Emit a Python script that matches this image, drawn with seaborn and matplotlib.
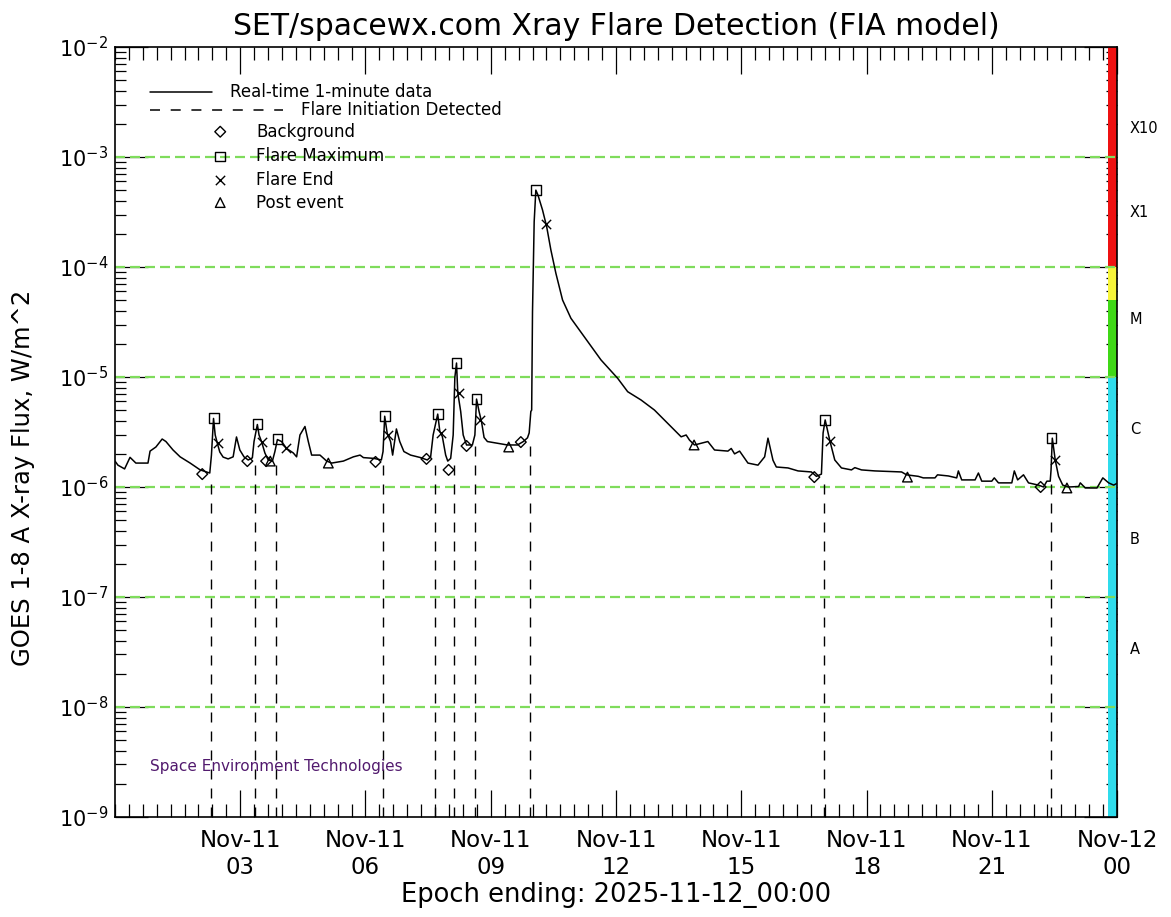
import matplotlib
matplotlib.use("Agg")
import matplotlib.pyplot as plt
import matplotlib.transforms as mtransforms
from matplotlib.patches import Rectangle
from matplotlib.ticker import MultipleLocator, FixedLocator, NullFormatter
import seaborn as sns
import pandas as pd

# ---------------- data (hours since 2025-11-11 00:00, flux W/m^2) ----------------
curve_hours = [0.00, 0.07, 0.23, 0.36, 0.50, 0.79, 0.84, 0.98, 1.13, 1.22, 1.39, 1.56, 1.80, 2.04,
               2.27, 2.31, 2.36, 2.40, 2.45, 2.51, 2.59, 2.71, 2.83, 2.91, 2.99, 3.09, 3.19, 3.29,
               3.33, 3.41, 3.45, 3.51, 3.59, 3.67, 3.77, 3.83, 3.89, 3.99, 4.11, 4.27, 4.35, 4.43,
               4.55, 4.63, 4.71, 4.91, 5.07, 5.19, 5.47, 5.71, 5.87, 5.95, 6.20, 6.38, 6.42, 6.46,
               6.52, 6.60, 6.65, 6.74, 6.82, 6.92, 7.08, 7.32, 7.48, 7.56, 7.62, 7.73, 7.78, 7.84,
               7.92, 7.97, 8.04, 8.10, 8.14, 8.18, 8.21, 8.28, 8.34, 8.42, 8.56, 8.62, 8.66, 8.72,
               8.78, 8.84, 8.92, 9.16, 9.40, 9.64, 9.78, 9.88, 9.92, 9.96, 9.98, 10.00, 10.04, 10.08,
               10.13, 10.24, 10.34, 10.44, 10.56, 10.72, 10.92, 11.24, 11.64, 12.04, 12.28, 12.60,
               12.92, 13.24, 13.56, 13.68, 13.76, 13.88, 14.20, 14.36, 14.68, 14.76, 14.84, 14.96,
               15.16, 15.40, 15.56, 15.64, 15.76, 15.84, 16.12, 16.36, 16.68, 16.80, 16.92, 16.96,
               17.01, 17.12, 17.24, 17.40, 17.64, 17.72, 17.88, 18.20, 18.84, 18.96, 19.24, 19.36,
               19.64, 19.70, 19.96, 20.16, 20.20, 20.28, 20.60, 20.68, 20.76, 21.00, 21.06, 21.16,
               21.48, 21.54, 21.62, 21.76, 21.88, 22.12, 22.24, 22.32, 22.40, 22.42, 22.45, 22.52,
               22.60, 22.70, 22.84, 23.08, 23.12, 23.24, 23.52, 23.66, 23.80, 23.92, 24.00]
curve_flux = [1.72e-6, 1.58e-6, 1.46e-6, 1.86e-6, 1.65e-6, 1.65e-6, 2.12e-6, 2.31e-6, 2.73e-6, 2.59e-6,
              2.17e-6, 1.88e-6, 1.65e-6, 1.43e-6,
              1.34e-6, 1.95e-6, 4.20e-6, 2.97e-6, 2.51e-6, 2.08e-6, 1.87e-6, 1.80e-6, 1.88e-6, 2.85e-6,
              2.17e-6, 1.88e-6, 1.76e-6, 1.84e-6,
              2.59e-6, 3.70e-6, 2.97e-6, 2.59e-6, 2.04e-6, 1.76e-6, 1.72e-6, 2.10e-6, 2.70e-6, 2.59e-6,
              2.24e-6, 2.04e-6, 1.88e-6, 2.97e-6,
              3.55e-6, 2.59e-6, 1.95e-6, 1.95e-6, 1.72e-6, 1.65e-6, 1.72e-6, 1.88e-6, 1.95e-6, 1.85e-6,
              1.82e-6, 1.76e-6, 2.10e-6, 4.40e-6,
              3.08e-6, 2.59e-6, 1.95e-6, 3.37e-6, 2.59e-6, 2.10e-6, 1.95e-6, 1.85e-6, 1.76e-6, 1.88e-6,
              2.97e-6, 4.60e-6, 3.20e-6, 2.88e-6,
              1.95e-6, 1.72e-6, 1.82e-6, 2.97e-6, 9.90e-6, 1.34e-5, 7.20e-6, 4.86e-6, 2.97e-6, 2.41e-6,
              2.41e-6, 2.97e-6, 6.30e-6, 4.86e-6,
              3.90e-6, 2.82e-6, 2.59e-6, 2.50e-6, 2.41e-6, 2.41e-6, 2.59e-6, 2.80e-6, 3.10e-6, 4.86e-6,
              5.00e-6, 3.90e-5, 2.58e-4, 5.00e-4,
              4.52e-4, 3.30e-4, 2.32e-4, 1.43e-4, 8.77e-5, 5.01e-5, 3.42e-5, 2.32e-5, 1.43e-5, 9.73e-6,
              7.35e-6, 6.18e-6,
              5.01e-6, 3.79e-6, 2.86e-6, 2.97e-6, 2.67e-6, 2.41e-6, 2.59e-6, 2.17e-6, 2.12e-6, 2.24e-6,
              2.00e-6, 2.12e-6,
              1.65e-6, 1.58e-6, 1.88e-6, 2.78e-6, 1.75e-6, 1.52e-6, 1.49e-6, 1.40e-6, 1.37e-6, 1.25e-6,
              1.31e-6, 3.10e-6,
              4.07e-6, 2.65e-6, 1.76e-6, 1.49e-6, 1.43e-6, 1.50e-6, 1.43e-6, 1.40e-6, 1.37e-6, 1.29e-6,
              1.25e-6, 1.21e-6,
              1.21e-6, 1.29e-6, 1.26e-6, 1.21e-6, 1.40e-6, 1.16e-6, 1.16e-6, 1.34e-6, 1.13e-6, 1.13e-6,
              1.21e-6, 1.09e-6,
              1.09e-6, 1.40e-6, 1.16e-6, 1.29e-6, 1.09e-6, 1.04e-6, 1.00e-6, 1.13e-6, 1.13e-6, 1.43e-6,
              2.78e-6, 1.76e-6,
              1.25e-6, 1.04e-6, 1.00e-6, 1.01e-6, 1.09e-6, 0.98e-6, 0.98e-6, 1.21e-6, 1.09e-6, 1.04e-6,
              1.08e-6]

start_hours = [2.30, 3.36, 3.86, 6.43, 7.66, 8.12, 8.62, 9.94, 16.97, 22.41]
start_flux = [1.29e-6, 1.84e-6, 1.76e-6, 1.84e-6, 1.84e-6, 1.80e-6, 2.67e-6, 2.78e-6, 1.29e-6, 1.11e-6]

max_hours = [2.37, 3.41, 3.89, 6.46, 7.73, 8.18, 8.66, 10.08, 17.01, 22.43]
max_flux = [4.24e-6, 3.74e-6, 2.73e-6, 4.42e-6, 4.61e-6, 1.34e-5, 6.30e-6, 5.00e-4, 4.07e-6, 2.78e-6]

end_hours = [2.46, 3.53, 4.10, 6.55, 7.82, 8.23, 8.74, 10.32, 17.13, 22.51]
end_flux = [2.52e-6, 2.56e-6, 2.26e-6, 2.97e-6, 3.10e-6, 7.20e-6, 4.07e-6, 2.45e-4, 2.63e-6, 1.77e-6]

bg_hours = [2.09, 3.17, 3.62, 6.24, 7.46, 7.99, 8.42, 9.72, 16.75, 22.17]
bg_flux = [1.31e-6, 1.72e-6, 1.72e-6, 1.69e-6, 1.80e-6, 1.43e-6, 2.36e-6, 2.56e-6, 1.23e-6, 1.00e-6]

post_hours = [3.72, 5.11, 9.43, 13.87, 18.98, 22.80]
post_flux = [1.72e-6, 1.65e-6, 2.31e-6, 2.41e-6, 1.23e-6, 0.98e-6]

grid_levels = [1e-8, 1e-7, 1e-6, 1e-5, 1e-4, 1e-3]
decade_exponents = [-9, -8, -7, -6, -5, -4, -3, -2]

band_low = [1e-9, 1e-5, 5e-5, 1e-4]
band_high = [1e-5, 5e-5, 1e-4, 1e-2]
band_colors = ["#2fdcec", "#3fd816", "#f6f43a", "#ee1111"]

class_labels = ["X10", "X1", "M", "C", "B", "A"]
class_label_flux = [1.8e-3, 3.16e-4, 3.3e-5, 3.3e-6, 3.3e-7, 3.3e-8]

xtick_hours = [3, 6, 9, 12, 15, 18, 21, 24]
xtick_labels = ["Nov-11\n03", "Nov-11\n06", "Nov-11\n09", "Nov-11\n12", "Nov-11\n15",
                "Nov-11\n18", "Nov-11\n21", "Nov-12\n00"]

# ---------------- style ----------------
sns.set_style("ticks")
plt.rcParams["font.family"] = ["DejaVu Sans"]
plt.rcParams["mathtext.fontset"] = "dejavusans"
plt.rcParams["lines.scale_dashes"] = False
for key in ["text.color", "axes.labelcolor", "xtick.color", "ytick.color"]:
    plt.rcParams[key] = "black"
PX = 0.72  # points per pixel at 100 dpi

fig = plt.figure(figsize=(11.71, 9.17), dpi=100)
fig.patch.set_facecolor("white")
ax = fig.add_axes([0.0982, 0.1091, 0.8557, 0.8396])
ax.set_facecolor("white")
ax.set_yscale("log")

# class colour bar at right edge
trans = mtransforms.blended_transform_factory(ax.transAxes, ax.transData)
for lo, hi, c in zip(band_low, band_high, band_colors):
    ax.add_patch(Rectangle((0.9915, lo), 0.0085, hi - lo, transform=trans,
                           facecolor=c, edgecolor="none", zorder=2.6))

for lev in grid_levels:
    ax.axhline(lev, color="#7fdc5c", lw=1.6, ls=(0, (10 * PX, 5 * PX)), zorder=2.7)

ax.vlines(start_hours, 1e-9, start_flux, colors="black", lw=1.0,
          linestyles=[(0, (10 * PX, 9 * PX))], zorder=3)

df = pd.DataFrame({"hour": curve_hours, "flux": curve_flux})
sns.lineplot(data=df, x="hour", y="flux", ax=ax, color="black", lw=1.1,
             estimator=None, sort=False, zorder=4)

mk = dict(ax=ax, facecolor="none", edgecolor="black", linewidth=1.0, zorder=5, legend=False)
sns.scatterplot(x=max_hours, y=max_flux, marker="s", s=48, **mk)
sns.scatterplot(x=bg_hours, y=bg_flux, marker="D", s=30, **mk)
sns.scatterplot(x=post_hours, y=post_flux, marker="^", s=48, **mk)
sns.scatterplot(x=end_hours, y=end_flux, marker="x", s=45, color="black", linewidth=1.0,
                ax=ax, zorder=5, legend=False)

ax.set_xlim(0, 24)
ax.set_ylim(1e-9, 1e-2)

# ticks
ax.set_xticks(xtick_hours)
ax.set_xticklabels(xtick_labels)
ax.xaxis.set_minor_locator(MultipleLocator(1 / 3))
ax.yaxis.set_major_locator(FixedLocator([10.0 ** e for e in decade_exponents]))
ax.yaxis.set_minor_locator(FixedLocator([m * 10.0 ** e for e in decade_exponents[:-1]
                                         for m in range(2, 10)]))
ax.set_yticklabels([f"$10^{{{e}}}$" for e in decade_exponents])
ax.yaxis.set_minor_formatter(NullFormatter())
ax.tick_params(axis="x", which="major", direction="in", top=True, bottom=True,
               length=27 * PX, width=0.9, pad=9, labelsize=16.5)
ax.tick_params(axis="x", which="minor", direction="in", top=True, bottom=True,
               length=13 * PX, width=0.9)
ax.tick_params(axis="y", which="major", direction="in", left=True, right=True,
               length=33 * PX, width=0.9, pad=5, labelsize=15)
ax.tick_params(axis="y", which="minor", direction="in", left=True, right=True,
               length=11 * PX, width=0.9)
for sp in ax.spines.values():
    sp.set_linewidth(1.2)
    sp.set_color("black")
    sp.set_zorder(6)

# labels
ax.set_title("SET/spacewx.com Xray Flare Detection (FIA model)", fontsize=21.5, pad=9)
ax.set_xlabel("Epoch ending: 2025-11-12_00:00", fontsize=18.5, labelpad=2)
ax.set_ylabel("GOES 1-8 A X-ray Flux, W/m^2", fontsize=17.5)
ax.yaxis.set_label_coords(-0.080, 0.44)

for lab, fy in zip(class_labels, class_label_flux):
    ax.text(1.013, fy, lab, transform=trans, ha="left", va="center", fontsize=10.5)

# in-plot legend
T = ax.transAxes
ax.plot([0.035, 0.097], [0.942, 0.942], transform=T, color="black", lw=1.1)
ax.text(0.115, 0.942, "Real-time 1-minute data", transform=T, va="center", fontsize=12)
ax.plot([0.035, 0.168], [0.918, 0.918], transform=T, color="black", lw=1.1,
        ls=(0, (10 * PX, 10.7 * PX)))
ax.text(0.186, 0.918, "Flare Initiation Detected", transform=T, va="center", fontsize=12)
leg_items = [("D", 30, 0.890, "Background"), ("s", 48, 0.858, "Flare Maximum"),
             ("x", 45, 0.827, "Flare End"), ("^", 48, 0.798, "Post event")]
for m, s, yy, txt in leg_items:
    if m == "x":
        ax.scatter([0.105], [yy], transform=T, marker=m, s=s, color="black", lw=1.0, zorder=5)
    else:
        ax.scatter([0.105], [yy], transform=T, marker=m, s=s, facecolor="none",
                   edgecolor="black", lw=1.0, zorder=5)
    ax.text(0.141, yy, txt, transform=T, va="center", fontsize=12)

ax.text(0.035, 0.065, "Space Environment Technologies", transform=T, va="center",
        fontsize=11, color="#521a6e")

fig.savefig("out.png", dpi=100)
